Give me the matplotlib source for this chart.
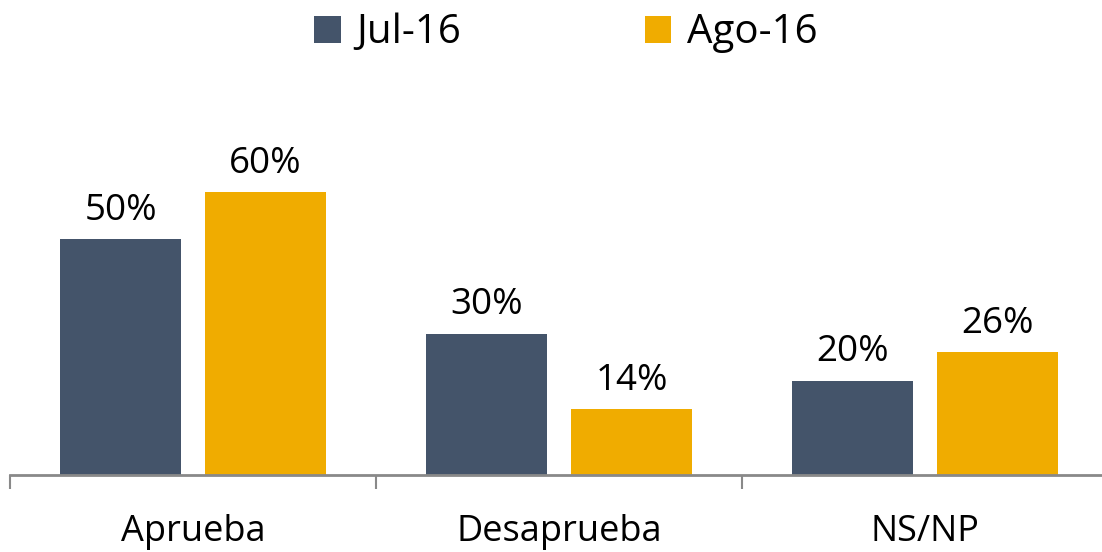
import matplotlib.pyplot as plt
import numpy as np

plt.rcParams['font.family'] = ['Open Sans', 'DejaVu Sans']

categories = ['Aprueba', 'Desaprueba', 'NS/NP']
series_names = ['Jul-16', 'Ago-16']
jul_values = [50, 30, 20]
ago_values = [60, 14, 26]
colors = ['#44546A', '#F0AC00']

fig = plt.figure(figsize=(11.02, 5.52), dpi=100)
# axes spans the three category groups, baseline at y=475px
ax = fig.add_axes([10 / 1102, 77 / 552, 1098 / 1102, 377 / 552])

x = np.arange(len(categories))
width = 0.333
gap = 0.063
off = (width + gap) / 2
bars1 = ax.bar(x - off, jul_values, width, color=colors[0], label=series_names[0])
bars2 = ax.bar(x + off, ago_values, width, color=colors[1], label=series_names[1])

for bars, vals in [(bars1, jul_values), (bars2, ago_values)]:
    for b, v in zip(bars, vals):
        ax.annotate(f'{v}%', (b.get_x() + b.get_width() / 2, b.get_height()),
                    xytext=(0, 14), textcoords='offset points',
                    ha='center', va='baseline', fontsize=26.5, color='black')

ax.set_xlim(-0.5, 2.5)
ax.set_ylim(0, 80)
ax.set_yticks([])
ax.set_xticks(x)
ax.set_xticklabels(categories, fontsize=26)
ax.set_xticks([-0.5, 0.5, 1.5, 2.5], minor=True)
ax.tick_params(axis='x', which='major', length=0, pad=28)
ax.tick_params(axis='x', which='minor', length=10, width=1.5, color='#898989', direction='out')

for s in ['top', 'right', 'left']:
    ax.spines[s].set_visible(False)
ax.spines['bottom'].set_color('#898989')
ax.spines['bottom'].set_linewidth(2)

fig.legend(loc='center', bbox_to_anchor=(566 / 1102, 1 - 33 / 552), ncol=2,
           frameon=False, fontsize=29, handlelength=0.65, handleheight=0.65,
           handletextpad=0.4, columnspacing=4.55)

fig.savefig('out.png', dpi=100)
